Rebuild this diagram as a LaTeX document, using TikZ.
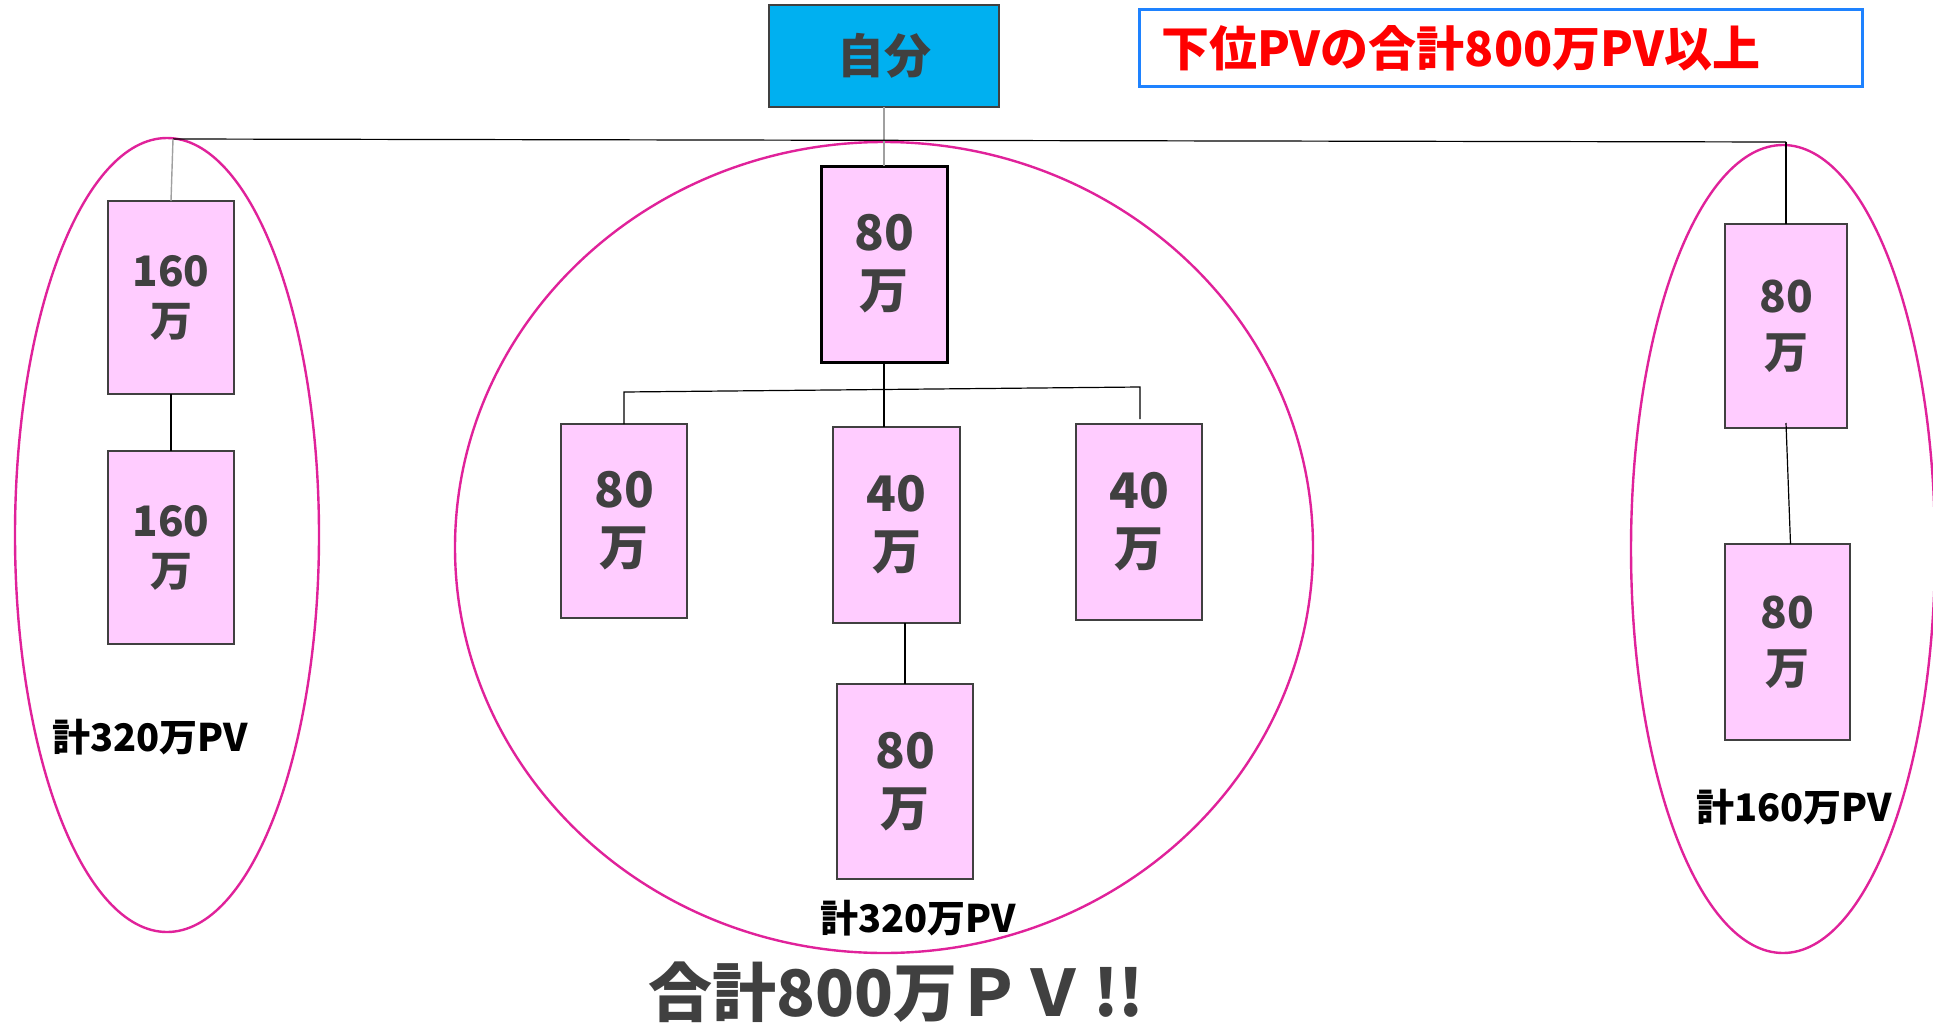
\documentclass[tikz,border=0pt]{standalone}
\usepackage{fontspec}
\newfontfamily\cjk{Noto Sans CJK JP}
\definecolor{boxfill}{HTML}{FFCCFF}
\definecolor{boxline}{HTML}{404040}
\definecolor{ellcol}{HTML}{E0229A}
\definecolor{selfcyan}{HTML}{00B0F0}
\definecolor{bluebd}{HTML}{1E82FF}
\definecolor{txtgray}{HTML}{404040}
\definecolor{lgray}{HTML}{A0A0A0}
\definecolor{redtxt}{HTML}{FF0000}
\begin{document}
\begin{tikzpicture}[x=1pt,y=-1pt,
  pvbox/.style={draw=boxline, line width=2.5pt, fill=boxfill, inner sep=0pt, outer sep=0pt,
    align=center, text=txtgray},
  midfont/.style={font=\cjk\bfseries\fontsize{49}{58}\selectfont},
  sidefontL/.style={font=\cjk\bfseries\fontsize{42}{50}\selectfont},
  sidefontR/.style={font=\cjk\bfseries\fontsize{44}{56}\selectfont},
  grp/.style={draw=ellcol, line width=2.4pt},
  conn/.style={draw=black, line width=1.2pt},
  connlight/.style={draw=lgray, line width=1.4pt},
  sumlabel/.style={font=\cjk\bfseries\fontsize{38}{44}\selectfont, text=black, inner sep=0pt}
]
\useasboundingbox (0,0) rectangle (1933,1025);
\clip (0,0) rectangle (1933,1025);

% group ellipses
\draw[grp] (167,535) ellipse [x radius=152pt, y radius=397pt];
\draw[grp] (884,547.5) ellipse [x radius=429pt, y radius=405.5pt];
\draw[grp] (1783,549) ellipse [x radius=152pt, y radius=404pt];

% top nodes
\node[draw=boxline, line width=2.5pt, fill=selfcyan, inner sep=0pt, outer sep=0pt,
  minimum width=230pt, minimum height=102pt, text=txtgray,
  font=\cjk\bfseries\fontsize{47}{56}\selectfont] (self) at (884,56) {自分};
\node[draw=bluebd, line width=3pt, inner sep=0pt, inner xsep=22pt, outer sep=0pt,
  minimum width=723pt, minimum height=76pt, text width=679pt, align=left, text=redtxt,
  font=\cjk\bfseries\fontsize{48}{56}\selectfont] (goal) at (1500.5,48) {下位PVの合計800万PV以上};

% left group
\node[pvbox, sidefontL, minimum width=126pt, minimum height=193pt] (L1) at (171,297.5) {160\\万};
\node[pvbox, sidefontL, minimum width=126pt, minimum height=193pt] (L2) at (171,547.5) {160\\万};
\node[sumlabel] (Lsum) at (150,737) {計320万PV};

% middle group
\node[pvbox, midfont, draw=black, line width=3pt, minimum width=126pt, minimum height=196pt] (M0) at (884,264) {80\\万};
\node[pvbox, midfont, minimum width=126pt, minimum height=194pt] (M1) at (624,521) {80\\万};
\node[pvbox, midfont, minimum width=127pt, minimum height=196pt] (M2) at (896.5,525) {40\\万};
\node[pvbox, midfont, minimum width=126pt, minimum height=196pt] (M3) at (1139,522) {40\\万};
\node[pvbox, midfont, minimum width=136pt, minimum height=195pt] (M4) at (905,781.5) {80\\万};
\node[sumlabel] (Msum) at (918,918) {計320万PV};

% right group
\node[pvbox, sidefontR, minimum width=122pt, minimum height=204pt] (R1) at (1786,326) {80\\万};
\node[pvbox, sidefontR, minimum width=125pt, minimum height=196pt] (R2) at (1787.5,642) {80\\万};
\node[sumlabel] (Rsum) at (1794,807) {計160万PV};

% total
\node[font=\cjk\bfseries\fontsize{64}{76}\selectfont, text=txtgray, inner sep=0pt] (total) at (896,992) {合計800万ＰＶ\hspace{8pt}!!};

% connectors
\coordinate (tl) at (173,139);
\coordinate (tr) at (1786,142);
\coordinate (ml) at (624,392);
\coordinate (mr) at (1140,387);
\coordinate (mrend) at (1140,419);

\draw[connlight] (self.south) -- (M0.north);
\draw[conn] (tl) -- (tr);
\draw[connlight] (tl) -- (L1.north);
\draw[conn] (tr) -- (R1.north);
\draw[conn] (L1.south) -- (L2.north);
\draw[conn] ([yshift=5pt]R1.south) -- ([xshift=3pt]R2.north);
\draw[conn] (M0.south) -- (M0.south |- M2.north);
\draw[conn] (M1.north) -- (ml) -- (mr) -- (mrend);
\draw[conn] (M4.north |- M2.south) -- (M4.north);
\end{tikzpicture}
\end{document}
